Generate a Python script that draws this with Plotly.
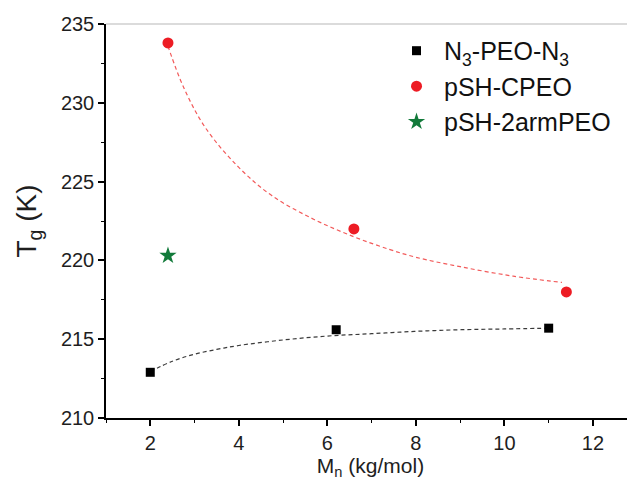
import plotly.graph_objects as go

# Data
n3_x = [2.0, 6.2, 11.0]
n3_y = [212.9, 215.6, 215.7]
cpeo_x = [2.4, 6.6, 11.4]
cpeo_y = [233.8, 222.0, 218.0]
arm_x = [2.4]
arm_y = [220.3]

# Fitted dashed curves
n3_fit_x = [2.0, 2.5, 3.0, 3.5, 4.0, 5.0, 6.0, 7.0, 8.0, 9.0, 10.0, 11.0]
n3_fit_y = [212.95, 213.6, 214.05, 214.35, 214.6, 214.95, 215.2, 215.35, 215.5, 215.6, 215.65, 215.7]
cpeo_fit_x = [2.4, 2.75, 3.25, 4.0, 4.75, 5.7, 6.6, 7.4, 8.0, 9.0, 10.2, 11.3]
cpeo_fit_y = [233.6, 231.0, 228.4, 225.9, 224.1, 222.6, 221.5, 220.7, 220.2, 219.6, 219.0, 218.6]

x_ticks = [2, 4, 6, 8, 10, 12]
y_ticks = [210, 215, 220, 225, 230, 235]

FONT = "Liberation Sans, Arial, sans-serif"
TXT = "#1e1e1e"

fig = go.Figure()
fig.add_trace(go.Scatter(x=n3_fit_x, y=n3_fit_y, mode="lines",
                         line=dict(color="#3a3a3a", width=1.2, dash="4px,3px", shape="spline"),
                         showlegend=False, hoverinfo="skip"))
fig.add_trace(go.Scatter(x=cpeo_fit_x, y=cpeo_fit_y, mode="lines",
                         line=dict(color="#f25a5a", width=1.2, dash="4px,3px", shape="spline"),
                         showlegend=False, hoverinfo="skip"))
fig.add_trace(go.Scatter(x=n3_x, y=n3_y, mode="markers", name="N<sub>3</sub>-PEO-N<sub>3</sub>",
                         marker=dict(symbol="square", size=9, color="black")))
fig.add_trace(go.Scatter(x=cpeo_x, y=cpeo_y, mode="markers", name="pSH-CPEO",
                         marker=dict(symbol="circle", size=11, color="#ed1c24")))
fig.add_trace(go.Scatter(x=arm_x, y=arm_y, mode="markers", name="pSH-2armPEO",
                         marker=dict(symbol="star", size=13, color="#127a3a")))

fig.update_layout(
    width=627, height=475,
    margin=dict(l=98, r=0, t=16, b=65),
    paper_bgcolor="white", plot_bgcolor="white",
    font=dict(family=FONT, color=TXT),
    legend=dict(x=0.535, y=0.99, xanchor="left", yanchor="top", bgcolor="rgba(0,0,0,0)",
                font=dict(size=25, family=FONT, color="#111111"), itemwidth=45, tracegroupgap=0),
    shapes=[dict(type="line", xref="paper", yref="paper", x0=0, x1=1, y0=1, y1=1,
                 line=dict(color="#cfcfcf", width=1.5))],
)
fig.update_xaxes(range=[1, 12.95], tickvals=x_ticks, showgrid=False, zeroline=False,
                 showline=True, linecolor="black", linewidth=1.5,
                 ticks="outside", ticklen=6, tickwidth=1.5, tickcolor="black",
                 minor=dict(dtick=1, tick0=1, ticks="outside", ticklen=3, tickwidth=1, tickcolor="black"),
                 tickfont=dict(size=20, family=FONT, color=TXT),
                 title=dict(text="M<sub>n</sub> (kg/mol)", font=dict(size=21, family=FONT, color=TXT), standoff=2))
fig.update_yaxes(range=[210, 235], tickvals=y_ticks, showgrid=False, zeroline=False,
                 showline=True, linecolor="black", linewidth=1.5,
                 ticks="outside", ticklen=6, tickwidth=1.5, tickcolor="black",
                 minor=dict(dtick=2.5, tick0=210, ticks="outside", ticklen=3, tickwidth=1, tickcolor="black"),
                 tickfont=dict(size=20, family=FONT, color=TXT),
                 title=dict(text="T<sub>g</sub> (K)", font=dict(size=28, family=FONT, color=TXT), standoff=16))

fig.write_html("out.html")
